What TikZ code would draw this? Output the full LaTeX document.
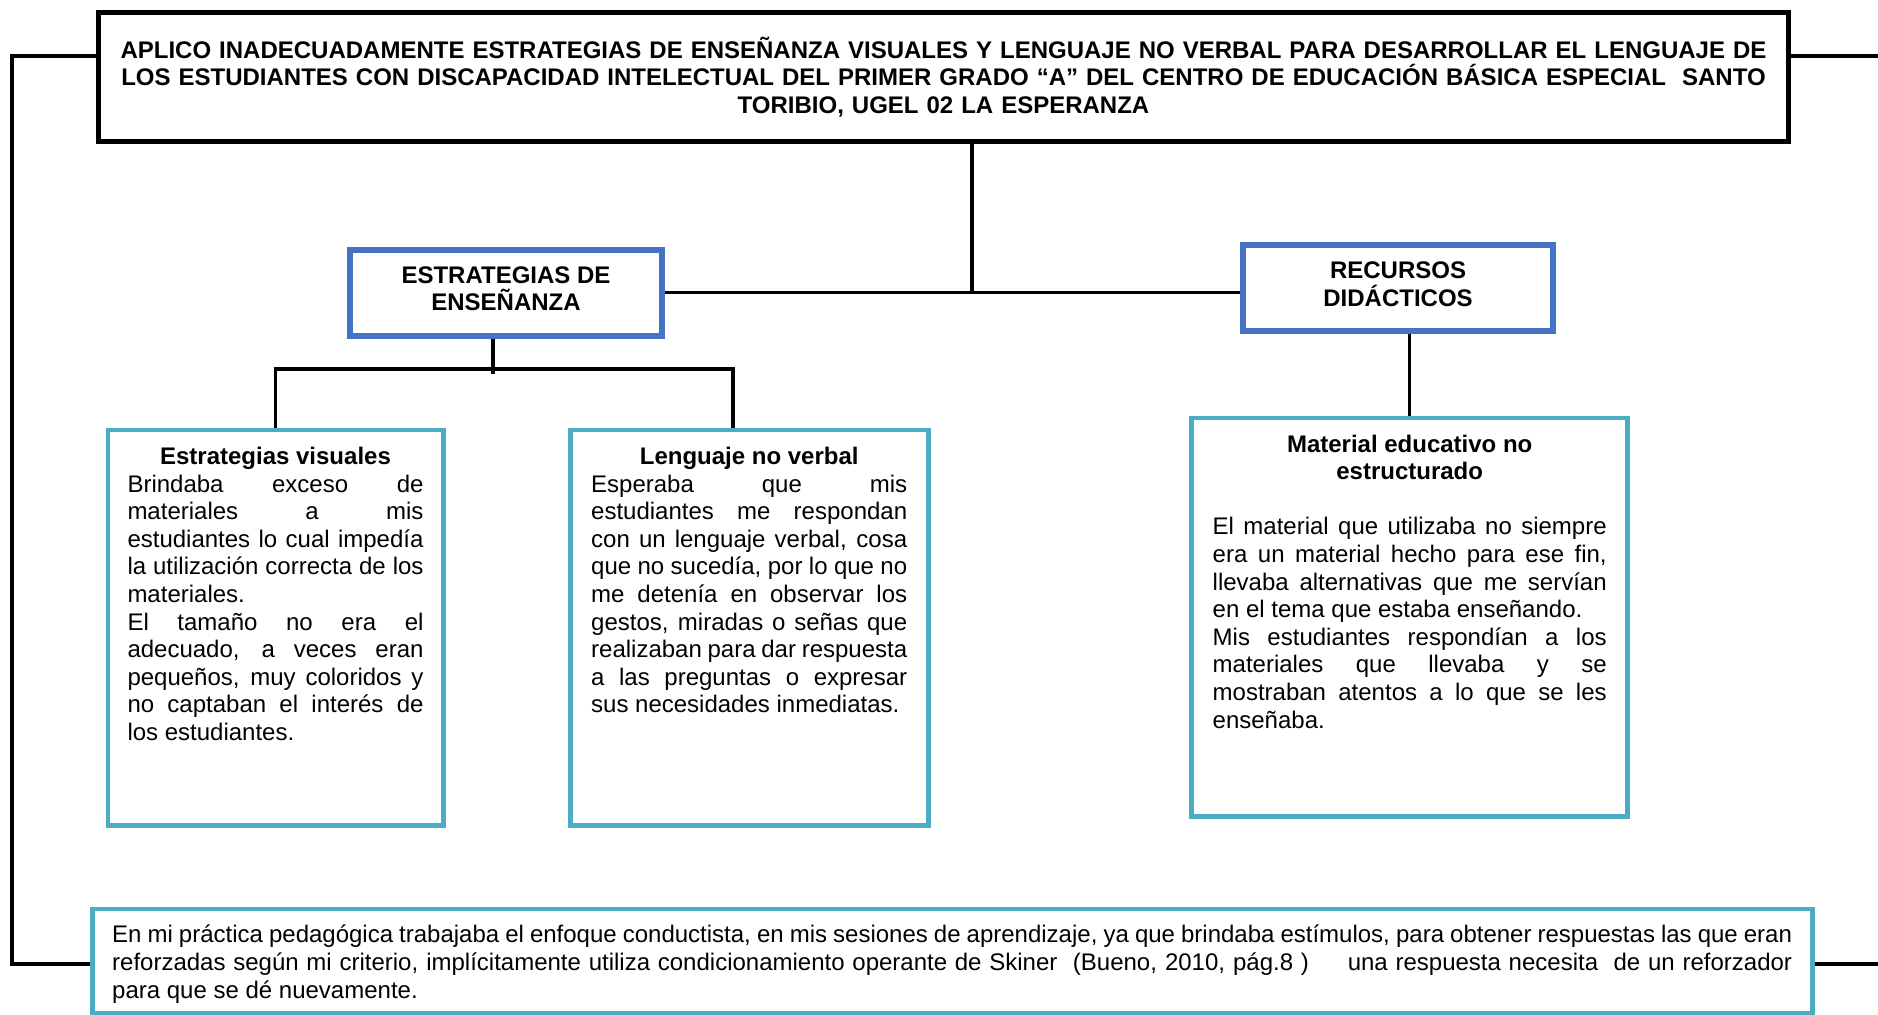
\documentclass[tikz,border=0pt]{standalone}
\usepackage{fontspec}
\setmainfont{Liberation Sans}
\usetikzlibrary{positioning}
\definecolor{azul}{HTML}{4472C4}
\definecolor{celeste}{HTML}{4BACC6}
\newcommand{\letra}{\fontsize{12}{13.8}\selectfont\parindent=0pt\tolerance=10000\hyphenpenalty=10000}
\tikzset{
    titulobox/.style={draw=black, line width=2.5pt, fill=white, text width=826pt, align=center,
        font=\letra\bfseries, inner sep=0pt, minimum width=845pt, minimum height=64.5pt},
    temabox/.style={draw=azul, line width=3pt, fill=white, inner sep=0pt, minimum height=43pt},
    tematxt/.style={align=center, font=\letra\bfseries, inner sep=0pt},
    marcobox/.style={draw=celeste, line width=2.4pt, inner sep=0pt},
    textobox/.style={inner sep=0pt, align=justify, font=\letra},
    enlace/.style={draw=black, line width=1.6pt},
    borde/.style={draw=black, line width=2.2pt}
}
\begin{document}
\begin{tikzpicture}[x=1pt, y=-1pt]
    \useasboundingbox (0,0) rectangle (939,507);
    \node[titulobox] (titulo) at (471.75,38.5)
        {APLICO INADECUADAMENTE ESTRATEGIAS DE ENSEÑANZA VISUALES Y LENGUAJE NO VERBAL PARA DESARROLLAR EL LENGUAJE DE\\
         LOS ESTUDIANTES CON DISCAPACIDAD INTELECTUAL DEL PRIMER GRADO “A” DEL CENTRO DE EDUCACIÓN BÁSICA ESPECIAL\ \ SANTO\\
         TORIBIO, UGEL 02 LA ESPERANZA};
    \node[temabox, minimum width=156pt] (estr) at (253,146.25) {};
    \node[tematxt, yshift=1.8pt] (estrtxt) at (estr) {ESTRATEGIAS DE\\ ENSEÑANZA};
    \node[temabox, minimum width=155pt] (recu) at (699,143.75) {};
    \node[tematxt, yshift=1.5pt] (recutxt) at (recu) {RECURSOS\\ DIDÁCTICOS};
    \node[marcobox, minimum width=167.6pt, minimum height=197.6pt] (visu) at (137.75,313.8) {};
    \node[marcobox, minimum width=179pt, minimum height=197.6pt] (leng) at (374.6,313.8) {};
    \node[marcobox, minimum width=218.1pt, minimum height=199.4pt] (mate) at (704.85,308.7) {};
    \node[marcobox, minimum width=860pt, minimum height=52pt] (practica) at (476.1,480.5) {};
    \node[textobox, text width=148pt, below=8.6pt of visu.north] (visutxt)
        {{\centering\bfseries\strut Estrategias visuales\par}
         Brindaba exceso de\linebreak materiales a mis\linebreak estudiantes lo cual impedía\linebreak
         la utilización correcta de los\linebreak materiales.\par
         El tamaño no era el\linebreak adecuado, a veces eran\linebreak pequeños, muy coloridos y\linebreak
         no captaban el interés de\linebreak los estudiantes.\par};
    \node[textobox, text width=158pt, below=8.6pt of leng.north] (lengtxt)
        {{\centering\bfseries\strut Lenguaje no verbal\par}
         Esperaba que mis\linebreak estudiantes me respondan\linebreak con un lenguaje verbal, cosa\linebreak
         que no sucedía, por lo que no\linebreak me detenía en observar los\linebreak gestos, miradas o señas que\linebreak
         realizaban para dar respuesta\linebreak a las preguntas o expresar\linebreak sus necesidades inmediatas.\par};
    \node[textobox, text width=197pt, below=8.4pt of mate.north] (matetxt)
        {{\centering\bfseries\strut Material educativo no\par estructurado\par}
         \vspace{13.8pt}
         El material que utilizaba no siempre\linebreak era un material hecho para ese fin,\linebreak
         llevaba alternativas que me servían\linebreak en el tema que estaba enseñando.\par
         Mis estudiantes respondían a los\linebreak materiales que llevaba y se\linebreak
         mostraban atentos a lo que se les\linebreak enseñaba.\par};
    \node[textobox, text width=840pt, below=8.3pt of practica.north] (practxt)
        {\strut En mi práctica pedagógica trabajaba el enfoque conductista, en mis sesiones de aprendizaje, ya que brindaba estímulos, para obtener respuestas las que eran\linebreak
         reforzadas según mi criterio, implícitamente utiliza condicionamiento operante de Skiner\ \ (Bueno, 2010, pág.8 )\ \ \ \ \ una respuesta necesita\ \ de un reforzador\linebreak
         para que se dé nuevamente.\par};
    \coordinate (eje) at (486,146);
    \coordinate (rama) at (246.5,184.5);
    \coordinate (bajada) at (366.5,184.5);
    \coordinate (izq) at (6,28);
    \coordinate (izqb) at (6,482);
    \coordinate (der) at (945,28);
    \coordinate (derb) at (945,482);
    \draw[enlace] (titulo.south -| eje) -- (eje);
    \draw[enlace] (estr.east) -- (estr.east -| recu.west);
    \draw[enlace] (estr.south -| rama) -- ([yshift=-2.5pt]rama);
    \draw[enlace] (visu.north) |- (bajada) -- (leng.north -| bajada);
    \draw[enlace] (recu.south -| mate.north) -- (mate.north);
    \draw[borde] (titulo.west |- izq) -- (izq) -- (izqb) -- (practica.west |- izqb);
    \draw[borde] (titulo.east |- der) -- (der);
    \draw[borde] (practica.east |- derb) -- (derb);
\end{tikzpicture}
\end{document}
